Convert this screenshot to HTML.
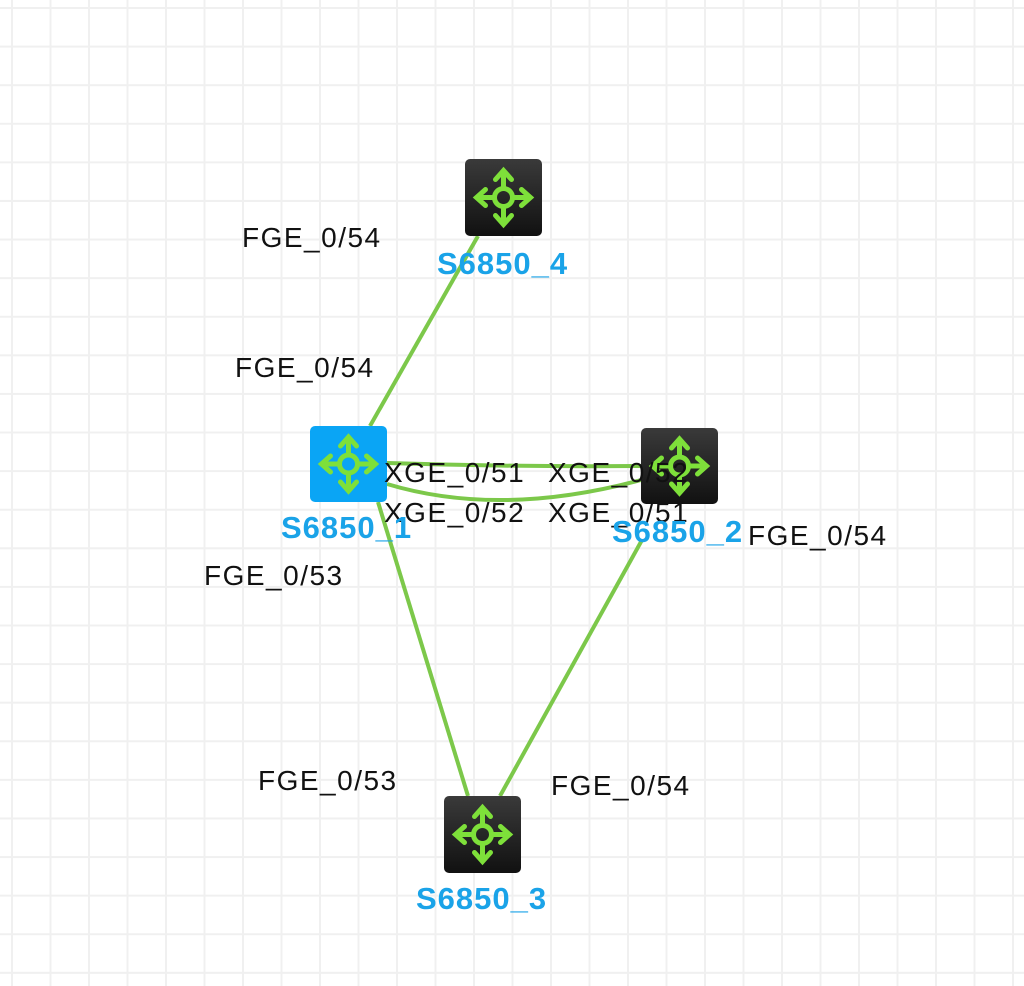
<!DOCTYPE html>
<html><head><style>
body{margin:0;width:1024px;height:986px;overflow:hidden;background:#fff;font-family:"Liberation Sans",Arial,sans-serif;}
.grid{position:absolute;left:0;top:0;width:1024px;height:986px;
background-image:linear-gradient(to right,#f0f0f0 2px,transparent 2px),linear-gradient(to bottom,#f0f0f0 2px,transparent 2px);
background-size:38.5px 38.6px;background-position:11px 7px;}
.t{position:absolute;font-size:28px;letter-spacing:1.5px;color:#111;white-space:nowrap;line-height:32px;}
.n{position:absolute;font-size:31px;letter-spacing:1px;font-weight:bold;color:#1aa3e8;white-space:nowrap;line-height:34px;}
</style></head><body>
<div class="grid"></div>
<svg width="1024" height="986" style="position:absolute;left:0;top:0">
<defs>
<linearGradient id="dk" x1="0" y1="0" x2="0" y2="1"><stop offset="0" stop-color="#3a3a3a"/><stop offset="1" stop-color="#111"/></linearGradient>
<g id="ic">
<circle cx="0" cy="0" r="9" fill="none" stroke="#7ee03a" stroke-width="5"/>
<g stroke="#7ee03a" stroke-width="5" fill="none" stroke-linecap="round">
<line x1="0" y1="-9" x2="0" y2="-26"/><polyline points="-8,-18 0,-27 8,-18"/>
<line x1="0" y1="9" x2="0" y2="26"/><polyline points="-8,18 0,27 8,18"/>
<line x1="-9" y1="0" x2="-26" y2="0"/><polyline points="-18,-8 -27,0 -18,8"/>
<line x1="9" y1="0" x2="26" y2="0"/><polyline points="18,-8 27,0 18,8"/>
</g></g>
</defs>
<g stroke="#7cc84a" stroke-width="4" fill="none">
<line x1="478" y1="236" x2="370" y2="426"/>
<line x1="378" y1="502" x2="468" y2="796"/>
<line x1="642" y1="540" x2="500" y2="796"/>
<path d="M387 463 Q514 467 641 466"/>
<path d="M387 484 Q500 518 641 480"/>
</g>
<rect x="465" y="159" width="77" height="77" rx="5" fill="url(#dk)"/>
<use href="#ic" x="503.5" y="197.5"/>
<rect x="310" y="426" width="77" height="76" rx="5" fill="#0aa5f5"/>
<use href="#ic" x="348.5" y="464"/>
<rect x="641" y="428" width="77" height="76" rx="5" fill="url(#dk)"/>
<use href="#ic" x="679.5" y="466"/>
<rect x="444" y="796" width="77" height="77" rx="5" fill="url(#dk)"/>
<use href="#ic" x="482.5" y="834.5"/>
</svg>
<div class="t" style="left:242px;top:222px">FGE_0/54</div>
<div class="t" style="left:235px;top:352px">FGE_0/54</div>
<div class="t" style="left:384px;top:457px">XGE_0/51</div>
<div class="t" style="left:548px;top:457px">XGE_0/52</div>
<div class="t" style="left:384px;top:497px">XGE_0/52</div>
<div class="t" style="left:548px;top:497px">XGE_0/51</div>
<div class="t" style="left:748px;top:520px">FGE_0/54</div>
<div class="t" style="left:204px;top:560px">FGE_0/53</div>
<div class="t" style="left:258px;top:765px">FGE_0/53</div>
<div class="t" style="left:551px;top:770px">FGE_0/54</div>
<div class="n" style="left:437px;top:247px">S6850_4</div>
<div class="n" style="left:281px;top:511px">S6850_1</div>
<div class="n" style="left:612px;top:515px">S6850_2</div>
<div class="n" style="left:416px;top:882px">S6850_3</div>
</body></html>
